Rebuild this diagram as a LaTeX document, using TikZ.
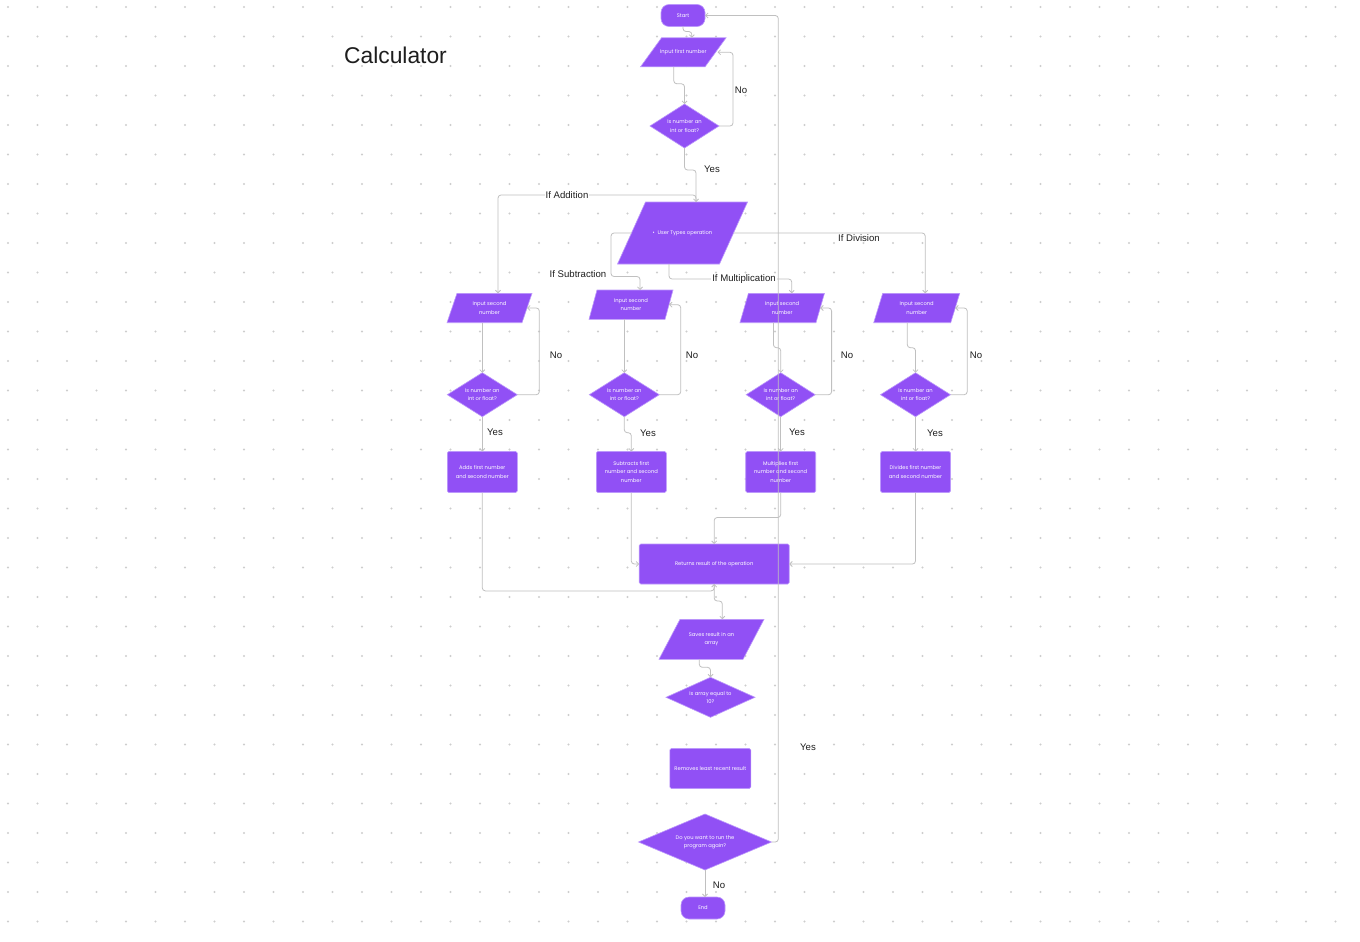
\documentclass[tikz,border=0pt]{standalone}
\usepackage{fontspec}
\setmainfont{Liberation Sans}
\newfontfamily\popfont{Poppins}
\usetikzlibrary{shapes.geometric,arrows.meta}
\definecolor{flowviolet}{RGB}{145,80,245}
\definecolor{flowedge}{RGB}{188,152,252}
\definecolor{linegray}{RGB}{192,192,192}
\definecolor{dotgray}{RGB}{205,205,205}
\definecolor{inkblack}{RGB}{30,30,30}
\tikzset{
	violetfill/.style={fill=flowviolet, draw=flowedge, line width=0.6pt},
	boxtext/.style={text=white, font=\popfont\fontsize{5.2}{8.3}\selectfont, align=center, inner sep=0pt},
	box/.style={violetfill, boxtext, outer sep=0pt},
	term/.style={box, rectangle, rounded corners=8pt, minimum width=44pt, minimum height=22pt},
	act/.style={box, rectangle, rounded corners=1.5pt},
	ask/.style={box, diamond, aspect=1.6},
	conn/.style={draw=linegray, line width=0.8pt, rounded corners=3pt, -{Straight Barb[length=2.5pt,width=5pt]}},
	lbl/.style={text=inkblack, fill=white, font=\fontsize{9.6}{11}\selectfont, inner xsep=1pt, inner ysep=0.5pt, text height=6.9pt, text depth=0pt},
}
% name, centre, edge width, height, slant, text
\newcommand{\slantbox}[6]{%
	\node[minimum width=#3, minimum height=#4, inner sep=0pt, outer sep=0pt] (#1) at (#2) {};
	\draw[violetfill] ([xshift=-#5/2]#1.south west) -- ([xshift=-#5/2]#1.south east) -- ([xshift=#5/2]#1.north east) -- ([xshift=#5/2]#1.north west) -- cycle;
	\node[boxtext] at (#1) {#6};
}

\begin{document}
\begin{tikzpicture}[x=1pt, y=-1pt]
			%%%%% START %%%%%
			
			\fill[white] (0, 0) rectangle (1360, 942);
			\useasboundingbox (0, 0) rectangle (1360, 942);
			\foreach \i in {0,...,45} {\foreach \j in {0,...,31} {\fill[dotgray] ({8+29.5*\i}, {7+29.5*\j}) circle (1.1pt);}}
			
			\node[text=inkblack, font=\fontsize{22.8}{27}\selectfont, inner sep=0pt] (title) at (395.5, 55) {Calculator};
			
			\node[term] (start) at (683, 15.5) {Start};
			\slantbox{inpfirst}{683.3, 52.3}{64.5pt}{29pt}{21pt}{Input first number}
			\node[ask, minimum width=69pt, minimum height=44pt] (chkfirst) at (684.5, 126) {Is number an\\int or float?};
			\slantbox{oper}{682.5, 233}{102pt}{62pt}{28pt}{\textbullet\ \ User Types operation}
			
			\slantbox{inadd}{489.5, 308}{75pt}{29.4pt}{10pt}{Input second\\number}
			\slantbox{insub}{631, 304.7}{76pt}{29.4pt}{8pt}{Input second\\number}
			\slantbox{inmul}{782.2, 308}{76pt}{29.4pt}{8.5pt}{Input second\\number}
			\slantbox{indiv}{916.7, 308}{77pt}{29.4pt}{9pt}{Input second\\number}
			
			\node[ask, minimum width=70pt, minimum height=44pt] (chkadd) at (482.3, 394.7) {Is number an\\int or float?};
			\node[ask, minimum width=70pt, minimum height=44pt] (chksub) at (624.3, 394.7) {Is number an\\int or float?};
			\node[ask, minimum width=69pt, minimum height=44pt] (chkmul) at (780.7, 394.7) {Is number an\\int or float?};
			\node[ask, minimum width=70pt, minimum height=44pt] (chkdiv) at (915.5, 394.7) {Is number an\\int or float?};
			
			\node[act, minimum width=70pt, minimum height=41pt] (doadd) at (482.3, 472) {Adds first number\\and second number};
			\node[act, minimum width=70pt, minimum height=41pt] (dosub) at (631.3, 472) {Subtracts first\\number and second\\number};
			\node[act, minimum width=70pt, minimum height=41pt] (domul) at (780.7, 472) {Multiplies first\\number and second\\number};
			\node[act, minimum width=70pt, minimum height=41pt] (dodiv) at (915.5, 472) {Divides first number\\and second number};
			
			\node[act, minimum width=150pt, minimum height=40pt] (result) at (714.2, 564) {Returns result of the operation};
			\slantbox{saveres}{711.5, 639.3}{84pt}{40pt}{21pt}{Saves result in an\\array}
			\node[ask, minimum width=89pt, minimum height=40pt] (chkarr) at (710.5, 697.3) {Is array equal to\\10?};
			\node[act, minimum width=81pt, minimum height=40pt] (removeold) at (710.3, 768.5) {Removes least recent result};
			\node[ask, minimum width=133pt, minimum height=56pt] (again) at (705, 842) {Do you want to run the\\program again?};
			\node[term] (stop) at (703, 908) {End};
			
			\draw[conn] (start.south) -- ++(0, 5) -| ([xshift=8.5pt]inpfirst.north);
			\draw[conn] ([xshift=-9.5pt]inpfirst.south) -- ++(0, 17) -| (chkfirst.north);
			\draw[conn] (chkfirst.east) -- ++(14, 0) |- ([xshift=2pt]inpfirst.east);
			\draw[conn] (chkfirst.south) -- ++(0, 22) -| ([xshift=13.5pt]oper.north);
			
			\draw[conn] ([xshift=13.5pt]oper.north) -- ++(0, -7) -| ([xshift=8.5pt]inadd.north);
			\draw[conn] (oper.west) -- ++(-20.5, 0) -- ++(0, 43.5) -| ([xshift=9pt]insub.north);
			\draw[conn] ([xshift=-13.5pt]oper.south) -- ++(0, 15) -| ([xshift=9.5pt]inmul.north);
			\draw[conn] (oper.east) -| ([xshift=8.5pt]indiv.north);
			
			\draw[conn] (inadd.south -| chkadd.north) -- (chkadd.north);
			\draw[conn] (chkadd.east) -- ++(22, 0) |- (inadd.east);
			\draw[conn] (chkadd.south) -- (doadd.north);
			\draw[conn] (doadd.south) -- ++(0, 98.4) -| (result.south);
			
			\draw[conn] (insub.south -| chksub.north) -- (chksub.north);
			\draw[conn] (chksub.east) -- ++(21.4, 0) |- (insub.east);
			\draw[conn] (chksub.south) -- ++(0, 16) -| (dosub.north);
			\draw[conn] (dosub.south) |- (result.west);
			
			\draw[conn] ([xshift=-8.8pt]inmul.south) -- ++(0, 25) -| (chkmul.north);
			\draw[conn] (chkmul.east) -- ++(16.4, 0) |- (inmul.east);
			\draw[conn] (chkmul.south) -- (domul.north);
			\draw[conn] (domul.south) -- ++(0, 25) -| (result.north);
			
			\draw[conn] ([xshift=-9.4pt]indiv.south) -- ++(0, 25) -| (chkdiv.north);
			\draw[conn] (chkdiv.east) -- ++(16.7, 0) |- (indiv.east);
			\draw[conn] (chkdiv.south) -- (dodiv.north);
			\draw[conn] (dodiv.south) |- (result.east);
			
			\draw[conn] (result.south) -- ++(0, 17) -| ([xshift=10.8pt]saveres.north);
			\draw[conn] ([xshift=-12.2pt]saveres.south) -- ++(0, 8) -| (chkarr.north);
			\draw[conn] (again.east) -- ++(6.8, 0) |- (start.east);
			\draw[conn] (again.south) -- (again.south |- stop.north);
			
			\node[lbl] at (741, 90) {No};
			\node[lbl] at (712, 169) {Yes};
			\node[lbl] at (567, 195) {If Addition};
			\node[lbl] at (578, 274) {If Subtraction};
			\node[lbl] at (744, 278) {If Multiplication};
			\node[lbl] at (859, 238) {If Division};
			\node[lbl] at (556, 355) {No};
			\node[lbl] at (692, 355) {No};
			\node[lbl] at (847, 355) {No};
			\node[lbl] at (976, 355) {No};
			\node[lbl] at (495, 432) {Yes};
			\node[lbl] at (648, 433) {Yes};
			\node[lbl] at (797, 432) {Yes};
			\node[lbl] at (935, 433) {Yes};
			\node[lbl] at (808, 747) {Yes};
			\node[lbl] at (719, 885) {No};
			
			%%%%% END %%%%%
\end{tikzpicture}
\end{document}
